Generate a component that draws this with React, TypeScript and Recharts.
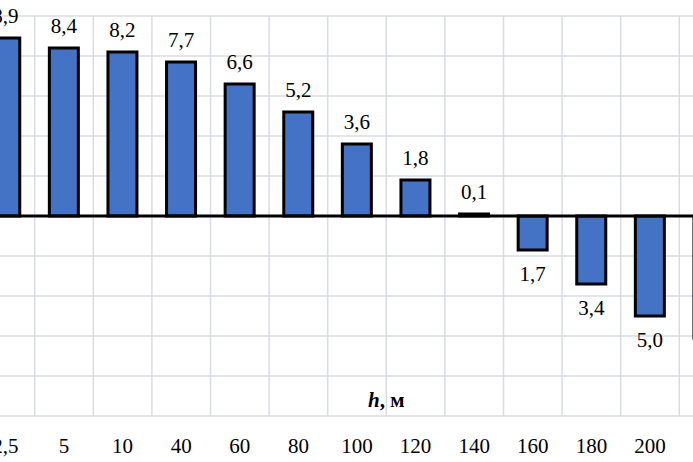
import React from 'react';
import { BarChart, Bar, XAxis, YAxis, CartesianGrid, ReferenceLine, LabelList } from 'recharts';

const categories = ['2,5', '5', '10', '40', '60', '80', '100', '120', '140', '160', '180', '200', '220'];
const values = [8.9, 8.4, 8.2, 7.7, 6.6, 5.2, 3.6, 1.8, 0.1, -1.7, -3.4, -5.0, -6.1];
const yTicks = [-10, -8, -6, -4, -2, 0, 2, 4, 6, 8, 10];
const titleItalic = 'h';
const titleRest = ', м';

const data = categories.map((c, i) => ({ h: c, v: values[i] }));

const FONT = "'Liberation Serif', 'Times New Roman', serif";

const fmt = (v: number) => Math.abs(v).toFixed(1).replace('.', ',');

const renderLabel = (p: any) => {
  const { x, y, width, height, value } = p;
  const v = Number(value);
  const cx = Number(x) + Number(width) / 2;
  const top = Math.min(Number(y), Number(y) + Number(height));
  const bottom = Math.max(Number(y), Number(y) + Number(height));
  const ty = v >= 0 ? top - 15 : bottom + 31;
  return (
    <text x={cx} y={ty} textAnchor="middle" fontSize={21} fontFamily={FONT} fill="#000">
      {fmt(v)}
    </text>
  );
};

const renderTitle = (p: any) => {
  const vb = p.viewBox || {};
  const band = vb.width / categories.length;
  const cx = vb.x + vb.width / 2 + band / 2;
  return (
    <text x={cx} y={vb.y - 9} textAnchor="middle" fontSize={21} fontFamily={FONT} fontWeight="bold" fill="#000">
      <tspan fontStyle="italic">{titleItalic}</tspan>
      <tspan>{titleRest}</tspan>
    </text>
  );
};

const gridX = ({ offset }: any) =>
  Array.from({ length: categories.length + 1 }, (_, i) => offset.left + (i * offset.width) / categories.length);

export default function App() {
  return (
    <div style={{ position: 'absolute', left: 0, top: 0, width: 693, height: 462, overflow: 'hidden', background: '#fff' }}>
      <div style={{ position: 'absolute', left: -40, top: 0 }}>
        <BarChart
          width={800}
          height={462}
          data={data}
          margin={{ top: 16, right: 22.1, bottom: 0, left: 16.1 }}
          barCategoryGap="25%"
        >
          <CartesianGrid stroke="#d9dce3" strokeWidth={1.5} verticalCoordinatesGenerator={gridX} />
          <XAxis
            dataKey="h"
            height={46}
            axisLine={false}
            tickLine={false}
            tickMargin={16}
            interval={0}
            tick={{ fontSize: 21, fill: '#000', fontFamily: FONT }}
            label={renderTitle}
          />
          <YAxis hide type="number" domain={[-10, 10]} ticks={yTicks} />
          <Bar dataKey="v" fill="#4472C4" stroke="#000" strokeWidth={3} isAnimationActive={false}>
            <LabelList dataKey="v" content={renderLabel} />
          </Bar>
          <ReferenceLine y={0} stroke="#000" strokeWidth={3} />
        </BarChart>
      </div>
    </div>
  );
}
